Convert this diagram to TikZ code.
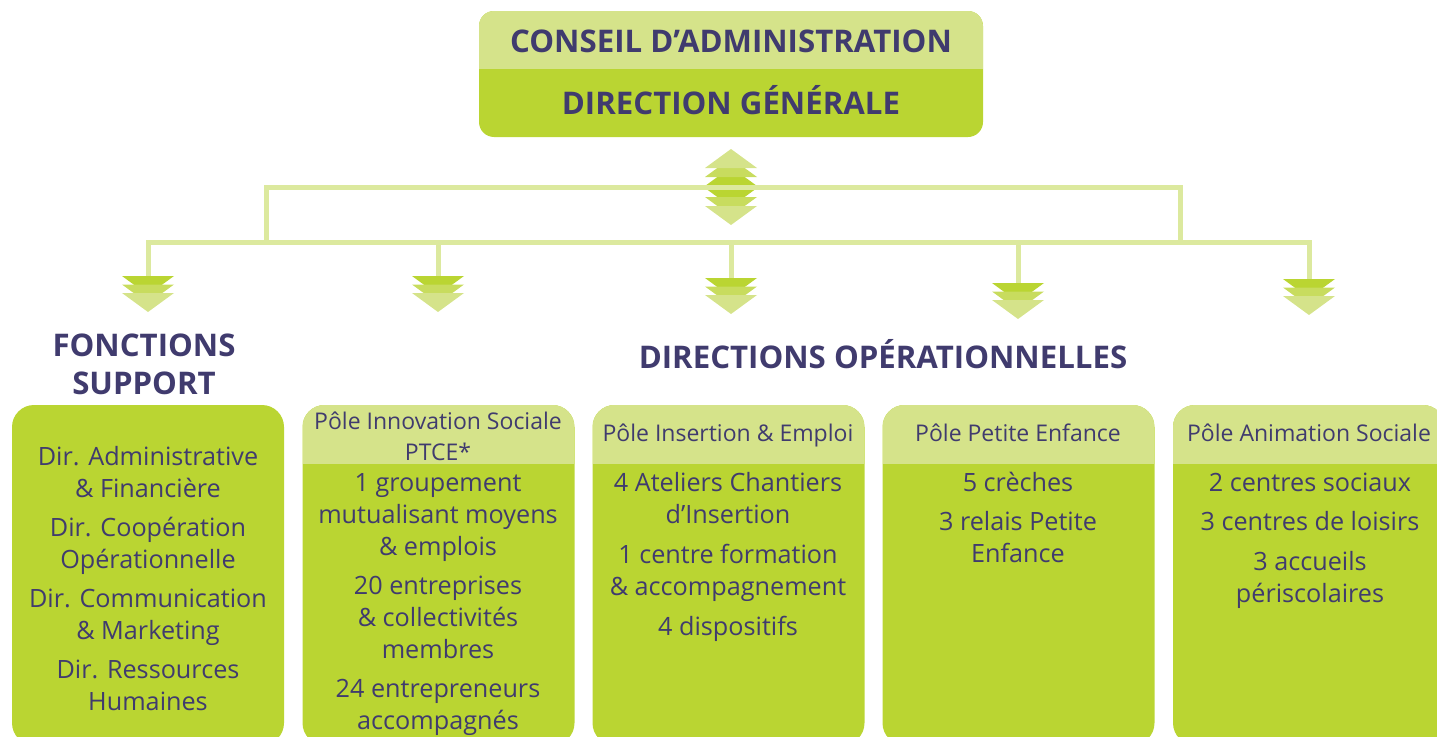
\documentclass[tikz,border=0pt]{standalone}
\usepackage{fontspec}
\setmainfont{Open Sans}
\definecolor{cdark}{HTML}{BAD532}
\definecolor{cmid}{HTML}{C8DC5E}
\definecolor{clight}{HTML}{D5E38A}
\definecolor{cline}{HTML}{DCE99E}
\definecolor{ctext}{HTML}{403B6E}
\tikzset{
  chevdown/.pic={
    \fill[cdark] (-26,0) -- (26,0) -- (0,19) -- cycle;
    \fill[cmid] (-26,8.5) -- (26,8.5) -- (0,27.5) -- cycle;
    \fill[clight] (-26,17) -- (26,17) -- (0,36) -- cycle;
  },
  chevboth/.pic={
    \fill[cdark] (-26,-1) -- (26,-1) -- (0,-20) -- cycle;
    \fill[cmid] (-26,-10) -- (26,-10) -- (0,-29) -- cycle;
    \fill[clight] (-26,-19) -- (26,-19) -- (0,-38) -- cycle;
    \fill[cdark] (-26,1) -- (26,1) -- (0,20) -- cycle;
    \fill[cmid] (-26,10) -- (26,10) -- (0,29) -- cycle;
    \fill[clight] (-26,19) -- (26,19) -- (0,38) -- cycle;
  },
  conn/.style={draw=cline, line width=5pt, line join=miter},
  topbox/.style={fill=cdark, rounded corners=15pt, minimum width=504pt, minimum height=126pt,
    inner sep=0pt, outer sep=0pt,
    path picture={\fill[clight, sharp corners] (path picture bounding box.north west) rectangle ([yshift=-58pt]path picture bounding box.north east);}},
  pbox/.style={fill=cdark, rounded corners=22pt, minimum width=272pt, minimum height=340pt,
    inner sep=0pt, outer sep=0pt},
  hbox/.style={pbox,
    path picture={\fill[clight, sharp corners] (path picture bounding box.north west) rectangle ([yshift=-59pt]path picture bounding box.north east);}},
  title/.style={text=ctext, inner sep=0pt, align=center, font=\fontsize{31.2}{38}\selectfont\bfseries},
  body/.style={text=ctext, inner sep=0pt, align=center, font=\fontsize{25.2}{32}\selectfont},
  head/.style={text=ctext, inner sep=0pt, align=center, font=\fontsize{23}{31}\selectfont},
}
\begin{document}
\begin{tikzpicture}[x=1pt,y=-1pt]
\useasboundingbox (0,0) rectangle (1437,736);
% top box
\node[topbox] (ca) at (731,74) {};
\node[title, anchor=base] (cat) at (731,52) {CONSEIL D’ADMINISTRATION};
\node[title, anchor=base] (dgt) at (731,114) {DIRECTION GÉNÉRALE};
% central double arrow
\pic at (731,187) {chevboth};
% connectors
\coordinate (ul) at (266,187);
\coordinate (ur) at (1180,187);
\coordinate (d1) at (148,276);
\coordinate (d2) at (438,276);
\coordinate (d3) at (731,278);
\coordinate (d4) at (1018,283);
\coordinate (d5) at (1309,279);
\coordinate (bl) at (148,242);
\coordinate (br) at (1309,242);
\draw[conn] (ul |- bl) -- (ul) -- (ur) -- (ur |- bl);
\draw[conn] (d1) -- (bl) -- (br) -- (d5);
\draw[conn] (d2) -- (d2 |- bl);
\draw[conn] (d3) -- (d3 |- bl);
\draw[conn] (d4) -- (d4 |- bl);
\pic at (d1) {chevdown};
\pic at (d2) {chevdown};
\pic at (d3) {chevdown};
\pic at (d4) {chevdown};
\pic at (d5) {chevdown};
% titles
\node[title, anchor=north] (fs) at (144,334) {FONCTIONS\\SUPPORT};
\node[title, anchor=base] (do) at (883,368) {DIRECTIONS OPÉRATIONNELLES};
% boxes
\node[pbox] (b1) at (148,575) {};
\node[hbox] (b2) at (438.5,575) {};
\node[hbox] (b3) at (728.5,575) {};
\node[hbox] (b4) at (1018.5,575) {};
\node[hbox] (b5) at (1309,575) {};
% headers
\node[head, anchor=north] (h2) at (438,412) {Pôle Innovation Sociale\\PTCE*};
\node[head, anchor=base] (h3) at (728,441) {Pôle Insertion \& Emploi};
\node[head, anchor=base] (h4) at (1018,441) {Pôle Petite Enfance};
\node[head, anchor=base] (h5) at (1309,441) {Pôle Animation Sociale};
% body texts
\node[body, anchor=north] (t1) at (148,446) {Dir. Administrative\\\& Financière\\[7pt]Dir. Coopération\\Opérationnelle\\[7pt]Dir. Communication\\\& Marketing\\[7pt]Dir. Ressources\\Humaines};
\node[body, anchor=north] (t2) at (438,473) {1 groupement\\mutualisant moyens\\\& emplois\\[7pt]20 entreprises\\\& collectivités\\membres\\[7pt]24 entrepreneurs\\accompagnés};
\node[body, anchor=north] (t3) at (728,472) {4 Ateliers Chantiers\\d’Insertion\\[8pt]1 centre formation\\\& accompagnement\\[8pt]4 dispositifs};
\node[body, anchor=north] (t4) at (1018,472) {5 crèches\\[7pt]3 relais Petite\\Enfance};
\node[body, anchor=north] (t5) at (1310,473) {2 centres sociaux\\[7pt]3 centres de loisirs\\[8pt]3 accueils\\périscolaires};
\end{tikzpicture}
\end{document}
